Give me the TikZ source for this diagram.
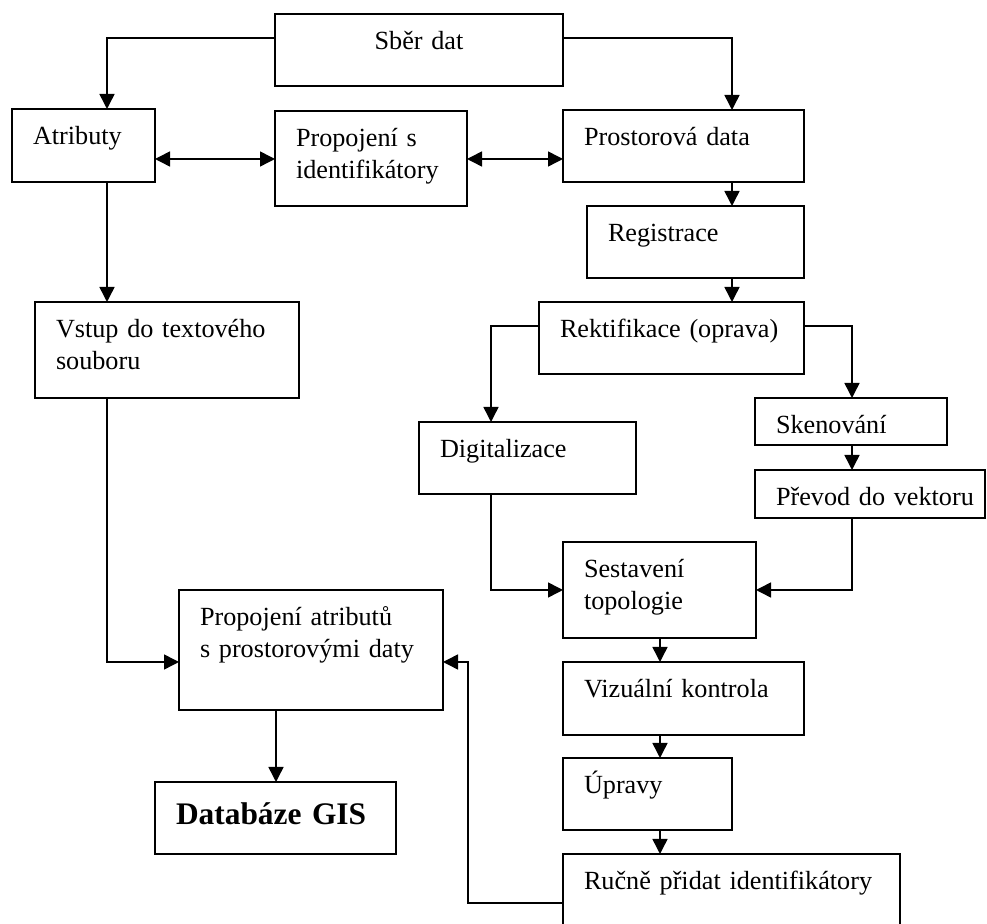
\documentclass[tikz,border=0pt]{standalone}
\usepackage{fontspec}
\setmainfont{Liberation Serif}
\usetikzlibrary{arrows.meta}
\begin{document}
\begin{tikzpicture}[x=0.5pt, y=-0.5pt, font=\fontsize{13.1}{16}\selectfont]
%% one unit is one pixel of the drawing, y grows downwards
%% boxes are placed by their top left corner
%% text height/depth fix where the first line sits in a box
\tikzstyle{arc}=[->,>={Triangle[length=7.5pt,width=7.5pt]},line width=0.75pt]
\tikzstyle{biarc}=[<->,>={Triangle[length=7.5pt,width=7.5pt]},line width=0.75pt]
\tikzstyle{blok}=[draw,line width=0.9pt,anchor=north west,outer sep=0pt,inner xsep=10.5pt,inner ysep=0pt,align=left,text height=17.75pt]
\useasboundingbox (0,0) rectangle (987,924);
\clip (0,0) rectangle (987,924);
%% TikZ-figure elements %%
\node[blok,align=center,text width=123pt,text depth=18.25pt] at (275,14) (Sber_dat) {Sběr~dat};
\node[blok,text width=50.5pt,text depth=18.75pt] at (12,109) (Atributy) {Atributy};
\node[blok,text width=75pt,text depth=29.75pt] at (275,111) (Propojeni_id) {Propojení s\\identifikátory};
\node[blok,text width=99.5pt,text depth=18.25pt] at (563,110) (Prostorova_data) {Prostorová~data};
\node[blok,text width=87.5pt,text depth=18.25pt] at (587,206) (Registrace) {Registrace};
\node[blok,text width=111pt,text depth=30.25pt] at (35,302) (Vstup) {Vstup do textového\\souboru};
\node[blok,text width=111.5pt,text depth=18.25pt] at (539,302) (Rektifikace) {\mbox{Rektifikace (oprava)}};
\node[blok,text width=87.5pt,text depth=18.25pt] at (419,422) (Digitalizace) {Digitalizace};
\node[blok,text width=75pt,text depth=5.75pt] at (755,398) (Skenovani) {Skenování};
\node[blok,text width=94pt,text depth=6.25pt] at (755,470) (Prevod) {\mbox{Převod do vektoru}};
\node[blok,text width=75.5pt,text depth=30.25pt] at (563,542) (Sestaveni) {Sestavení\\topologie};
\node[blok,text width=111pt,text depth=42.25pt] at (179,590) (Propojeni_atr) {Propojení atributů\\s prostorovými daty};
\node[blok,text width=99.5pt,text depth=18.75pt] at (563,662) (Vizualni) {\mbox{Vizuální kontrola}};
\node[blok,text width=63.5pt,text depth=18.25pt] at (563,758) (Upravy) {Úpravy};
\node[blok,text width=99.5pt,text height=21.5pt,text depth=14.5pt,font=\fontsize{15.7}{19}\selectfont\bfseries] at (155,782) (Databaze) {\mbox{Databáze GIS}};
\node[blok,text width=147.5pt,text depth=18.25pt] at (563,854) (Rucne) {\mbox{Ručně přidat identifikátory}};
%% arcs of the left branch
\draw[arc] (Sber_dat.west |- 0,38) -| (Atributy.north -| 107,0);
\draw[biarc] (Atributy.east |- 0,159) -- (Propojeni_id.west |- 0,159);
\draw[biarc] (Propojeni_id.east |- 0,159) -- (Prostorova_data.west |- 0,159);
\draw[arc] (Atributy.south -| 107,0) -- (Vstup.north -| 107,0);
\draw[arc] (Vstup.south -| 107,0) |- (Propojeni_atr.west |- 0,662);
\draw[arc] (Propojeni_atr.south -| 276,0) -- (Databaze.north -| 276,0);
%% arcs of the right branch
\draw[arc] (Sber_dat.east |- 0,38) -| (Prostorova_data.north -| 732,0);
\draw[arc] (Prostorova_data.south -| 732,0) -- (Registrace.north -| 732,0);
\draw[arc] (Registrace.south -| 732,0) -- (Rektifikace.north -| 732,0);
\draw[arc] (Rektifikace.west |- 0,326) -| (Digitalizace.north -| 491,0);
\draw[arc] (Rektifikace.east |- 0,326) -| (Skenovani.north -| 852,0);
\draw[arc] (Skenovani.south -| 852,0) -- (Prevod.north -| 852,0);
\draw[arc] (Digitalizace.south -| 491,0) |- (Sestaveni.west);
\draw[arc] (Prevod.south -| 852,0) |- (Sestaveni.east);
\draw[arc] (Sestaveni.south -| 660,0) -- (Vizualni.north -| 660,0);
\draw[arc] (Vizualni.south -| 660,0) -- (Upravy.north -| 660,0);
\draw[arc] (Upravy.south -| 660,0) -- (Rucne.north -| 660,0);
%% back to the linking of attributes
\draw[arc] (Rucne.west |- 0,903) -| (468,662) -- (Propojeni_atr.east |- 0,662);
\end{tikzpicture}
\end{document}
